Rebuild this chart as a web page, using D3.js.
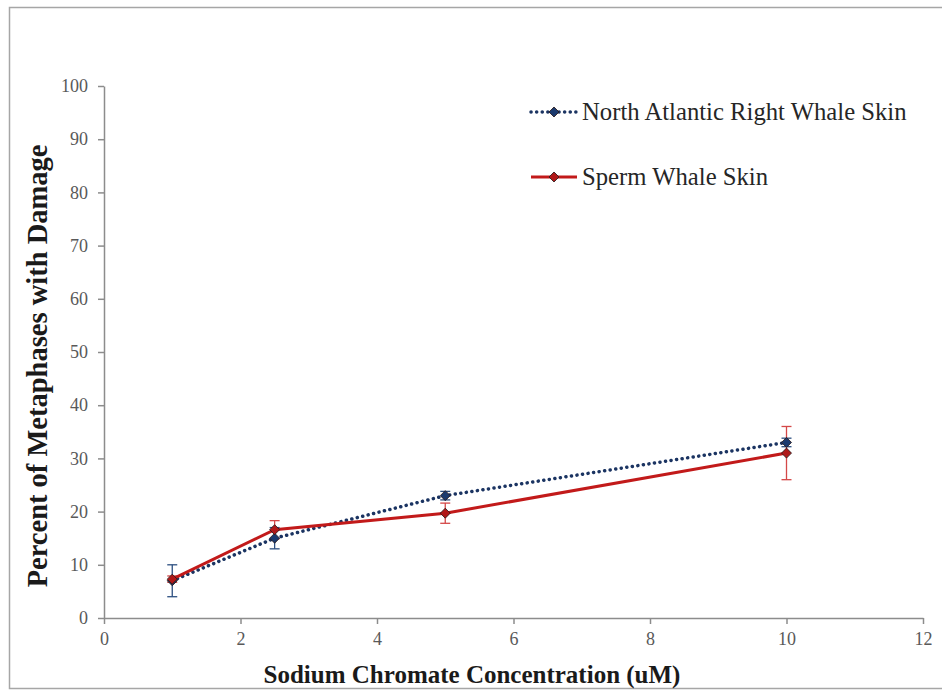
<!DOCTYPE html>
<html lang="en">
  <head>
    <meta charset="utf-8" />
    <title>Metaphases with Damage</title>
    <script src="https://cdnjs.cloudflare.com/ajax/libs/d3/7.8.5/d3.min.js"></script>
    <style>
      body {
        margin: 0;
        background: #fff;
        font-family: "Liberation Serif", "Times New Roman", serif;
      }
    </style>
  </head>
  <body>
    <div id="chart"></div>
    <script>
      // concentrations (uM)
      const conc = [1, 2.5, 5, 10];
      const rightWhale = [7, 15, 23, 33];
      const rightWhaleErr = [3, 2, 0.8, 0.8];
      const spermWhale = [7.3, 16.6, 19.7, 31];
      const spermWhaleErr = [0.6, 1.7, 1.9, 5];
      const xTicks = [0, 2, 4, 6, 8, 10, 12];
      const yTicks = [0, 10, 20, 30, 40, 50, 60, 70, 80, 90, 100];

      const width = 942, height = 692;
      const serif = "Liberation Serif, Times New Roman, serif";
      const svg = d3.select("#chart").append("svg")
        .attr("width", width).attr("height", height);

      // outer frame
      svg.append("rect")
        .attr("x", 9.5).attr("y", 7.5)
        .attr("width", 940).attr("height", 681)
        .attr("fill", "none").attr("stroke", "#a6a6a6").attr("stroke-width", 1.5);

      const x = d3.scaleLinear().domain([0, 12]).range([104, 923]);
      const y = d3.scaleLinear().domain([0, 100]).range([618, 86]);

      function styleAxis(g) {
        g.attr("font-family", serif).attr("font-size", 18);
        g.selectAll("path, line").attr("stroke", "#8c8c8c").attr("stroke-width", 1.5);
        g.selectAll(".tick text").attr("fill", "#595959").attr("font-family", serif);
      }

      svg.append("g")
        .attr("transform", "translate(0,618)")
        .call(d3.axisBottom(x).tickValues(xTicks).tickSize(6).tickPadding(8).tickSizeOuter(0))
        .call(styleAxis);

      svg.append("g")
        .attr("transform", "translate(104,0)")
        .call(d3.axisLeft(y).tickValues(yTicks).tickSize(6).tickPadding(10).tickSizeOuter(0))
        .call(styleAxis);

      svg.append("text")
        .attr("x", 472).attr("y", 683)
        .attr("text-anchor", "middle")
        .attr("font-family", serif)
        .attr("font-weight", "bold").attr("font-size", 25)
        .attr("fill", "#1a1a1a")
        .text("Sodium Chromate Concentration (uM)");

      svg.append("text")
        .attr("transform", "translate(47,366) rotate(-90)")
        .attr("text-anchor", "middle")
        .attr("font-family", serif)
        .attr("font-weight", "bold").attr("font-size", 28.5)
        .attr("fill", "#1a1a1a")
        .text("Percent of Metaphases with Damage");

      const series = [
        { name: "North Atlantic Right Whale Skin", vals: rightWhale, err: rightWhaleErr,
          color: "#1b3462", dash: "0.1 5.5", lw: 3.5, cap: "round", errColor: "#2c4f80",
          fill: "#1b3a6e", legendY: 112 },
        { name: "Sperm Whale Skin", vals: spermWhale, err: spermWhaleErr,
          color: "#c21a1a", dash: null, lw: 3, cap: "butt", errColor: "#d44848",
          fill: "#b01818", legendY: 177 }
      ];

      const line = d3.line().x(d => x(d[0])).y(d => y(d[1]));
      // square turned 45 degrees, like the spreadsheet diamond marker
      const diamond = d3.symbol().type(d3.symbolSquare).size(50);

      series.forEach(s => {
        const pts = conc.map((c, i) => [c, s.vals[i], s.err[i]]);

        // error bars
        const eb = svg.append("g").attr("stroke", s.errColor).attr("stroke-width", 1.3);
        pts.forEach(p => {
          eb.append("line").attr("x1", x(p[0])).attr("x2", x(p[0]))
            .attr("y1", y(p[1] - p[2])).attr("y2", y(p[1] + p[2]));
          [p[1] - p[2], p[1] + p[2]].forEach(v => {
            eb.append("line").attr("x1", x(p[0]) - 5).attr("x2", x(p[0]) + 5)
              .attr("y1", y(v)).attr("y2", y(v));
          });
        });
      });

      series.forEach(s => {
        const pts = conc.map((c, i) => [c, s.vals[i]]);
        svg.append("path").datum(pts)
          .attr("fill", "none").attr("stroke", s.color)
          .attr("stroke-width", s.lw).attr("stroke-linecap", s.cap)
          .attr("stroke-dasharray", s.dash)
          .attr("d", line);
        svg.selectAll(null).data(pts).enter().append("path")
          .attr("d", diamond)
          .attr("transform", d => `translate(${x(d[0])},${y(d[1])}) rotate(45)`)
          .attr("fill", s.fill).attr("stroke", "#2a1a1a").attr("stroke-width", 0.8);

        // legend
        svg.append("line")
          .attr("x1", 531).attr("x2", 577).attr("y1", s.legendY).attr("y2", s.legendY)
          .attr("stroke", s.color).attr("stroke-width", s.lw)
          .attr("stroke-linecap", s.cap).attr("stroke-dasharray", s.dash);
        svg.append("path").attr("d", diamond)
          .attr("transform", `translate(554,${s.legendY}) rotate(45)`)
          .attr("fill", s.fill).attr("stroke", "#2a1a1a").attr("stroke-width", 0.8);
        svg.append("text")
          .attr("x", 582).attr("y", s.legendY + 8)
          .attr("font-family", serif)
          .attr("font-size", 24.7).attr("fill", "#262626")
          .text(s.name);
      });
    </script>
  </body>
</html>
